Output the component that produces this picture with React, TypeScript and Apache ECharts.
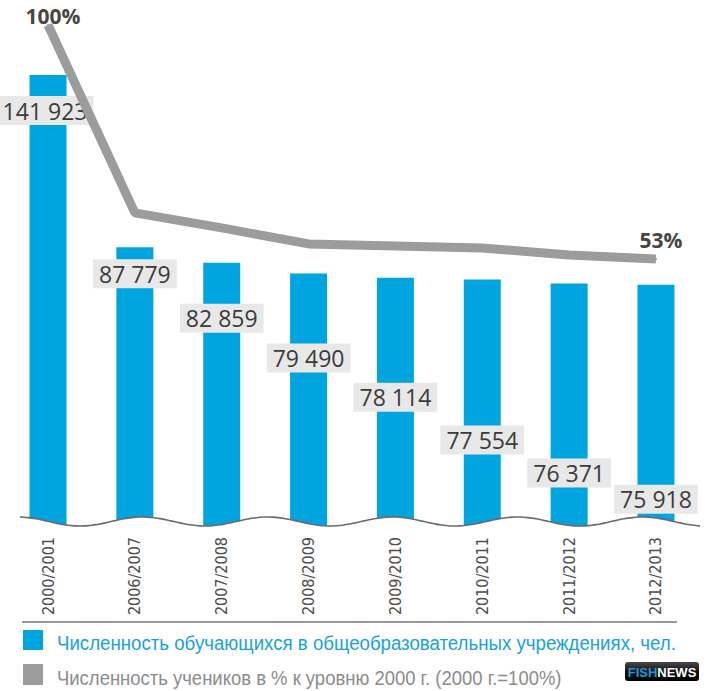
import { useEffect, useRef } from 'react';
import * as echarts from 'echarts';

// ---- data ----
const categories = ['2000/2001', '2006/2007', '2007/2008', '2008/2009', '2009/2010', '2010/2011', '2011/2012', '2012/2013'];
const students = [141923, 87779, 82859, 79490, 78114, 77554, 76371, 75918];
const percentOf2000 = [100, 62.5, 59.5, 56.3, 55.9, 55.5, 54.1, 53.3];
const legendNames = [
  'Численность обучающихся в общеобразовательных учреждениях, чел.',
  'Численность учеников в % к уровню 2000 г. (2000 г.=100%)',
];

// ---- layout (label staircase offsets, px) ----
const LABEL_SHIFT: number[][] = [[-3, 17], [0, 8], [0, 37], [0, 66], [0, 101], [0, 142], [0, 171], [0, 196]];

const BLUE = '#00a5e0';
const GREY = '#9c9c9c';
const NARROW = "'Liberation Sans Narrow', 'DejaVu Sans Condensed', 'Arial Narrow', sans-serif";
const LEGEND_FONT_FAMILY = "'Liberation Sans', Arial, sans-serif";
const LEGEND_FONT_SIZE = 21;

function fmtThousands(v: number) {
  return String(v).replace(/\B(?=(\d{3})+(?!\d))/g, ' ');
}

function measure(text: string, size: number, family: string) {
  const ctx = document.createElement('canvas').getContext('2d');
  if (!ctx) return text.length * size * 0.5;
  ctx.font = `${size}px ${family}`;
  return ctx.measureText(text).width;
}

function wavePoints() {
  const pts: number[][] = [];
  for (let x = 20; x <= 700; x += 4) {
    pts.push([x, 521.5 + 4.5 * Math.cos((2 * Math.PI * (x - 80)) / 125)]);
  }
  return pts;
}

export default function App() {
  const ref = useRef<HTMLDivElement>(null);
  useEffect(() => {
    const chart = echarts.init(ref.current!, null, { renderer: 'svg' });
    const wave = wavePoints();
    const mask = [[0, wave[0][1]], ...wave, [709, wave[wave.length - 1][1]], [709, 532], [0, 532]];
    const last = percentOf2000.length - 1;
    const legendTargets = [619, 505];
    const legendScale = legendNames.map((n, i) => legendTargets[i] / measure(n, LEGEND_FONT_SIZE, LEGEND_FONT_FAMILY));
    chart.setOption({
      animation: false,
      backgroundColor: '#ffffff',
      grid: { left: 4.6, right: 9.6, top: 25, bottom: 165 },
      xAxis: {
        type: 'category',
        data: categories,
        boundaryGap: true,
        axisLine: { show: false },
        axisTick: { show: false },
        splitLine: { show: false },
        axisLabel: { rotate: 90, margin: 11, color: '#4d4d4d', fontSize: 16, fontFamily: NARROW },
      },
      yAxis: [
        { type: 'value', min: 0, max: 157700, show: false, splitLine: { show: false } },
        { type: 'value', min: 0, max: 100, show: false, splitLine: { show: false } },
      ],
      series: [
        {
          name: legendNames[0],
          type: 'bar',
          barWidth: 37,
          itemStyle: { color: BLUE },
          data: students.map((v, i) => ({ value: v, label: { offset: LABEL_SHIFT[i] } })),
          label: {
            show: true,
            position: 'insideTop',
            distance: 4,
            formatter: (p: any) => fmtThousands(p.value),
            backgroundColor: '#e8e8e8',
            padding: [3, 6],
            fontSize: 23,
            lineHeight: 23,
            color: '#3b3b3b',
            fontFamily: "'Open Sans', sans-serif",
          },
          z: 2,
        },
        {
          name: legendNames[1],
          type: 'line',
          yAxisIndex: 1,
          symbol: 'circle',
          symbolSize: 2,
          showSymbol: true,
          color: GREY,
          itemStyle: { color: GREY },
          lineStyle: { color: GREY, width: 9, cap: 'butt' },
          data: percentOf2000.map((p, i) => ({
            value: p,
            label: { show: i === 0 || i === last, offset: i === 0 ? [5, 5] : [5, -4] },
          })),
          label: {
            position: 'top',
            distance: 3,
            formatter: (p: any) => Math.round(p.value) + '%',
            fontSize: 21,
            lineHeight: 21,
            fontWeight: 'bold',
            color: '#4a4542',
            fontFamily: "'Open Sans', sans-serif",
          },
          z: 3,
        },
      ],
      graphic: [
        { type: 'polygon', z: 100, shape: { points: mask }, style: { fill: '#ffffff' }, silent: true },
        { type: 'polyline', z: 101, shape: { points: wave, smooth: 0.3 }, style: { stroke: '#6b6b6b', lineWidth: 1.6, fill: null }, silent: true },
        { type: 'line', z: 101, shape: { x1: 22, y1: 622, x2: 677, y2: 622 }, style: { stroke: '#777777', lineWidth: 1.5 }, silent: true },
        // legend
        { type: 'rect', z: 101, shape: { x: 23, y: 630, width: 20, height: 20 }, style: { fill: BLUE } },
        {
          type: 'text', z: 101, x: 57, y: 642.5, scaleX: legendScale[0],
          style: { text: legendNames[0], fill: '#17a2dc', fontSize: LEGEND_FONT_SIZE, fontFamily: LEGEND_FONT_FAMILY, verticalAlign: 'middle', align: 'left' },
        },
        { type: 'rect', z: 101, shape: { x: 23, y: 664, width: 20, height: 21 }, style: { fill: GREY } },
        {
          type: 'text', z: 101, x: 57, y: 677.5, scaleX: legendScale[1],
          style: { text: legendNames[1], fill: '#8c8c8c', fontSize: LEGEND_FONT_SIZE, fontFamily: LEGEND_FONT_FAMILY, verticalAlign: 'middle', align: 'left' },
        },
        // badge
        {
          type: 'group',
          z: 101,
          children: [
            {
              type: 'rect',
              shape: { x: 625, y: 662, width: 74, height: 19, r: 3 },
              style: {
                fill: new echarts.graphic.LinearGradient(0, 0, 0, 1, [
                  { offset: 0, color: '#4a4a4a' },
                  { offset: 0.5, color: '#111111' },
                  { offset: 1, color: '#000000' },
                ]),
              },
            },
            {
              type: 'text',
              x: 662,
              y: 672,
              style: {
                text: '{a|FISH}{b|NEWS}',
                align: 'center',
                verticalAlign: 'middle',
                rich: {
                  a: { fill: '#1a9ad6', fontSize: 13, fontWeight: 'bold', fontFamily: "'Liberation Sans', Arial, sans-serif" },
                  b: { fill: '#ffffff', fontSize: 13, fontWeight: 'bold', fontFamily: "'Liberation Sans', Arial, sans-serif" },
                },
              },
            },
          ],
        },
      ],
    });
    return () => chart.dispose();
  }, []);
  return <div ref={ref} style={{ position: 'fixed', left: 0, top: 0, width: 709, height: 691, background: '#fff' }} />;
}
